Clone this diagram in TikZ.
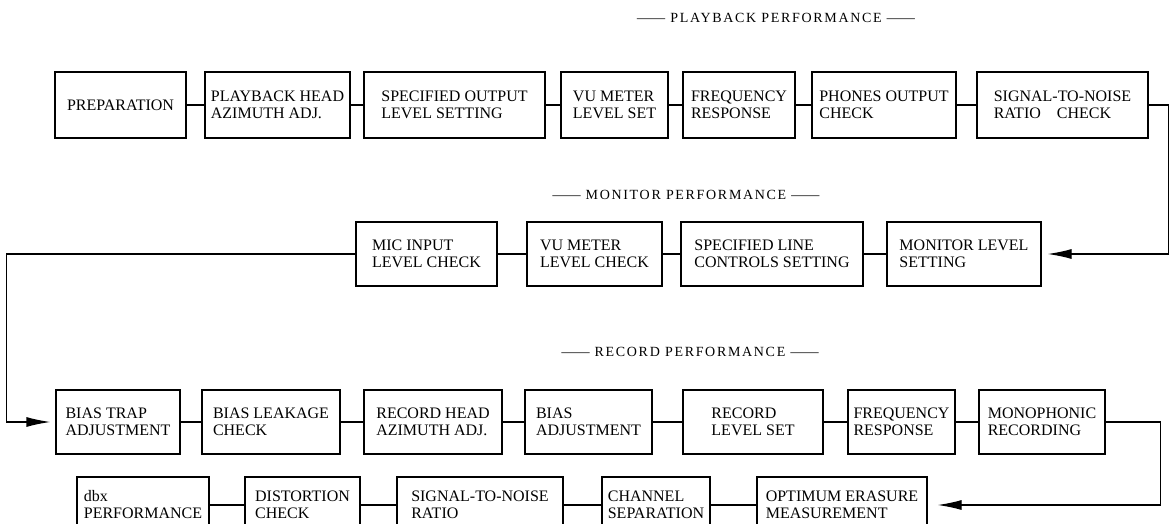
\documentclass[tikz,border=0pt]{standalone}
\usepackage{graphicx}
\usepackage{fontspec}
\setmainfont{Liberation Serif}
\usetikzlibrary{arrows.meta}
\begin{document}
\begin{tikzpicture}[x=1pt,y=-1pt,
  box/.style={draw,line width=1.2pt,rectangle,inner sep=0pt,align=left,font=\fontsize{16}{17}\selectfont},
  link/.style={line width=1.2pt},
  flow/.style={line width=1.2pt,-{Latex[length=24pt,width=10pt]}},
  ttl/.style={font=\fontsize{14}{16}\selectfont\addfontfeature{LetterSpace=12}}]
\useasboundingbox (0,0) rectangle (1170,524);
\clip (0,0) rectangle (1170,524);
% titles
\node[ttl] (t1) at (776,18) {\scalebox{2}[1]{—} PLAYBACK PERFORMANCE \scalebox{2}[1]{—}};
\node[ttl] (t2) at (686,195) {\scalebox{2}[1]{—} MONITOR PERFORMANCE \scalebox{2}[1]{—}};
\node[ttl] (t3) at (690,352) {\scalebox{2}[1]{—} RECORD PERFORMANCE \scalebox{2}[1]{—}};
% row 1
\node[box,minimum width=131,minimum height=66] (p1) at (120.5,105) {PREPARATION};
\node[box,minimum width=145,minimum height=66] (p2) at (277.5,105) {PLAYBACK HEAD\\AZIMUTH ADJ.};
\node[box,minimum width=181,minimum height=66] (p3) at (454.5,105) {SPECIFIED OUTPUT\\LEVEL SETTING};
\node[box,minimum width=107,minimum height=66] (p4) at (614.5,105) {VU METER\\LEVEL SET};
\node[box,minimum width=112,minimum height=66] (p5) at (739,105) {FREQUENCY\\RESPONSE};
\node[box,minimum width=144,minimum height=66] (p6) at (884,105) {PHONES OUTPUT\\CHECK};
\node[box,minimum width=171,minimum height=66] (p7) at (1062.5,105) {SIGNAL-TO-NOISE\\RATIO\quad CHECK};
% row 2
\node[box,minimum width=141,minimum height=64] (m1) at (426.5,254) {MIC INPUT\\LEVEL CHECK};
\node[box,minimum width=135,minimum height=64] (m2) at (594.5,254) {VU METER\\LEVEL CHECK};
\node[box,minimum width=182,minimum height=64] (m3) at (772,254) {SPECIFIED LINE\\CONTROLS SETTING};
\node[box,minimum width=154,minimum height=64] (m4) at (964,254) {MONITOR LEVEL\\SETTING};
% row 3
\node[box,minimum width=124,minimum height=64] (r1) at (118,422) {BIAS TRAP\\ADJUSTMENT};
\node[box,minimum width=138,minimum height=64] (r2) at (271,422) {BIAS LEAKAGE\\CHECK};
\node[box,minimum width=138,minimum height=64] (r3) at (433,422) {RECORD HEAD\\AZIMUTH ADJ.};
\node[box,minimum width=127,minimum height=64] (r4) at (588.5,422) {BIAS\\ADJUSTMENT};
\node[box,minimum width=140,minimum height=64] (r5) at (753,422) {RECORD\\LEVEL SET};
\node[box,minimum width=107,minimum height=64] (r6) at (901.5,422) {FREQUENCY\\RESPONSE};
\node[box,minimum width=126,minimum height=64] (r7) at (1042,422) {MONOPHONIC\\RECORDING};
% row 4
\node[box,minimum width=132,minimum height=56] (d1) at (143,505) {dbx\\PERFORMANCE};
\node[box,minimum width=115,minimum height=56] (d2) at (302.5,505) {DISTORTION\\CHECK};
\node[box,minimum width=166,minimum height=56] (d3) at (480,505) {SIGNAL-TO-NOISE\\RATIO};
\node[box,minimum width=108,minimum height=56] (d4) at (656,505) {CHANNEL\\SEPARATION};
\node[box,minimum width=170,minimum height=56] (d5) at (842,505) {OPTIMUM ERASURE\\MEASUREMENT};
% connectors
\foreach \a/\b in {p1/p2,p2/p3,p3/p4,p4/p5,p5/p6,p6/p7,m1/m2,m2/m3,m3/m4,r1/r2,r2/r3,r3/r4,r4/r5,r5/r6,r6/r7,d1/d2,d2/d3,d3/d4,d4/d5}
  \draw[link] (\a) -- (\b);
\draw[flow,shorten >=6pt] (p7.east) -- ++(20,0) |- (m4.east);
\draw[flow,shorten >=5pt] (m1.west) -- ++(-349,0) |- (r1.west);
\draw[flow,shorten >=10pt] (r7.east) -- ++(55,0) |- (d5.east);
\end{tikzpicture}
\end{document}
